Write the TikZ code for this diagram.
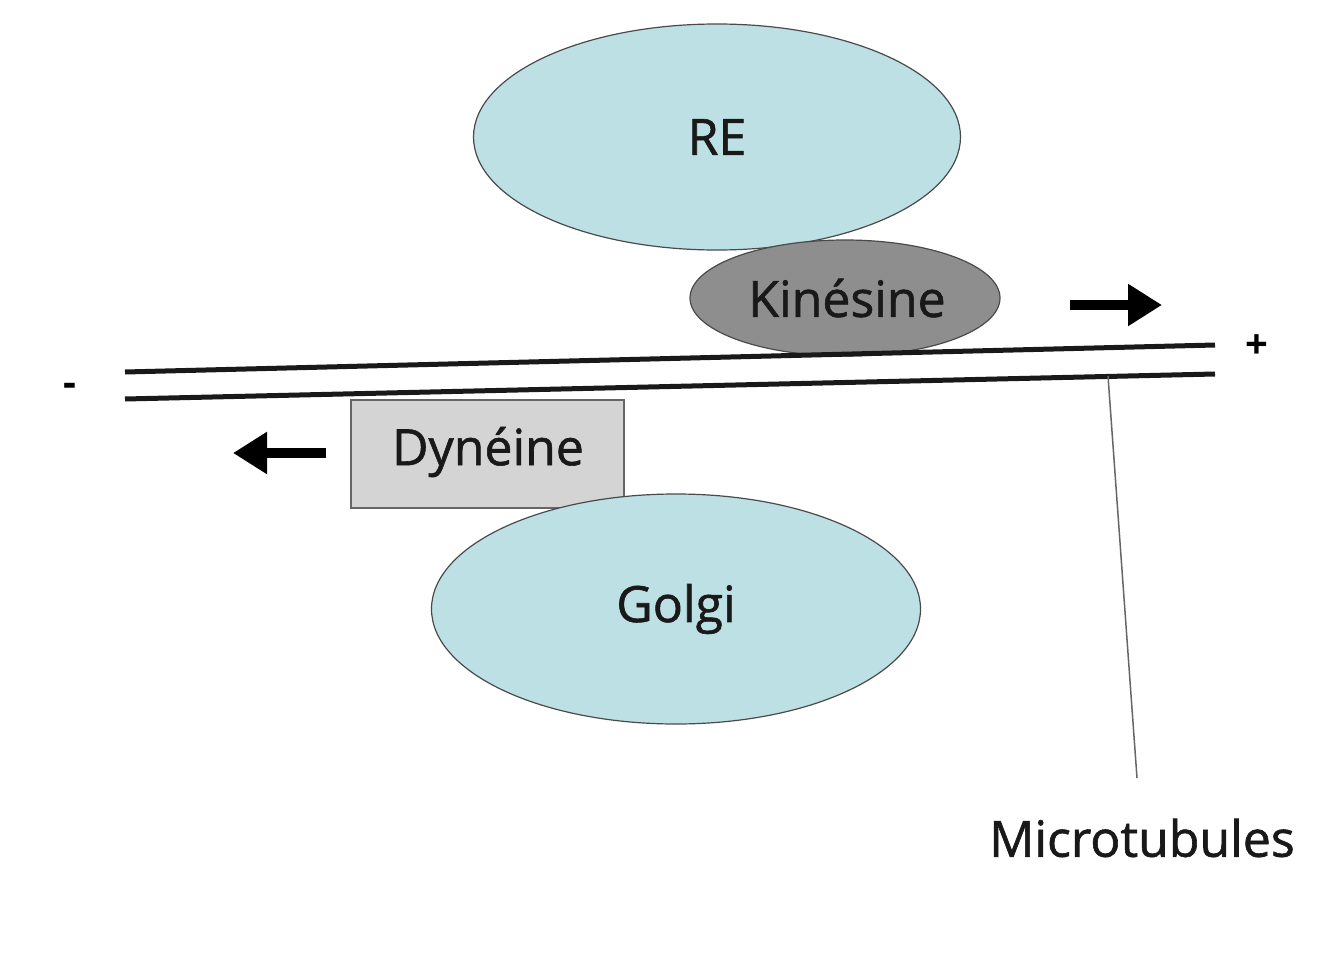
\documentclass[tikz,border=0pt]{standalone}
\usepackage{fontspec}
\setmainfont{Open Sans}
\newfontfamily\lblfont{Open Sans}[FakeBold=1.2]
\usetikzlibrary{arrows.meta,shapes.geometric}
\definecolor{organelle}{HTML}{BDE0E4}
\definecolor{kin}{HTML}{8E8E8E}
\definecolor{dyn}{HTML}{D4D4D4}
\definecolor{edge}{HTML}{4A4A4A}
\tikzset{
  lbl/.style={font=\lblfont\fontsize{50}{56}\selectfont, text=black!90},
  organ/.style={ellipse, draw=edge, line width=1.2pt, fill=organelle, inner sep=0pt},
  kinbox/.style={ellipse, draw=edge, line width=1.2pt, fill=kin, inner sep=0pt},
  dynbox/.style={rectangle, draw=gray!80!black, line width=1.5pt, fill=dyn, inner sep=0pt},
  tube/.style={line width=5pt, black!90},
  motion/.style={line width=10pt, -{Triangle[length=34pt,width=40pt]}},
  leader/.style={line width=1.5pt, gray!80!black},
  sign/.style={font=\fontsize{40}{44}\selectfont\bfseries},
}
\begin{document}
\begin{tikzpicture}[x=1pt,y=-1pt]
\fill[white] (0,0) rectangle (1334,961);
\useasboundingbox (0,0) rectangle (1334,961);
% RE
\node[organ, minimum width=487pt, minimum height=226pt] (re) at (717,137) {};
\node[lbl] (retxt) at (717,137) {RE};
% Kinesine
\node[kinbox, minimum width=310pt, minimum height=116pt] (kin) at (845,298) {};
\node[lbl] (kintxt) at (847,298) {Kinésine};
% microtubules
\coordinate (t1a) at (125,372);
\coordinate (t1b) at (1215,345);
\coordinate (t2a) at (125,399);
\coordinate (t2b) at (1215,374);
\draw[tube] (t1a) -- (t1b);
\draw[tube] (t2a) -- (t2b);
\node[sign] (plus) at (1257,347) {+};
\node[sign] (minus) at (70,390) {-};
% arrows
\coordinate (ra1) at (1070,305);
\coordinate (ra2) at (1162,305);
\draw[motion] (ra1) -- (ra2);
\coordinate (la1) at (326,453);
\coordinate (la2) at (233,453);
\draw[motion] (la1) -- (la2);
% Dyneine
\node[dynbox, minimum width=273pt, minimum height=108pt] (dyn) at (487.5,454) {};
\node[lbl] (dyntxt) at (488,452) {Dynéine};
% Golgi
\node[organ, minimum width=489pt, minimum height=230pt] (golgi) at (676,609) {};
\node[lbl] (golgitxt) at (676,609) {Golgi};
% label
\node[lbl] (mt) at (1142,838) {Microtubules};
\coordinate (lstart) at (1108,376);
\coordinate (lend) at (1137,778);
\draw[leader] (lstart) -- (lend);
\end{tikzpicture}
\end{document}
